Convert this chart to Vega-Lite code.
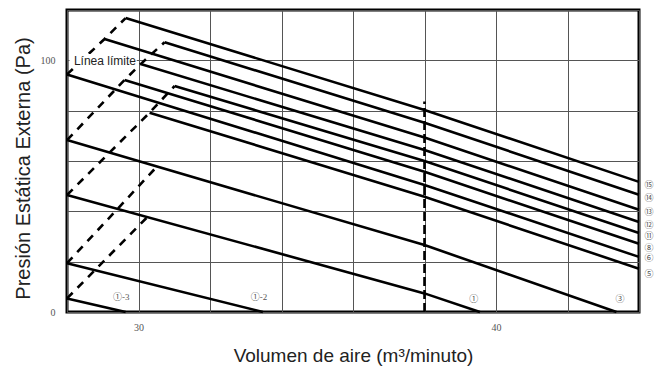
{
  "$schema": "https://vega.github.io/schema/vega-lite/v6.json",
  "width": 572,
  "height": 302,
  "autosize": {"type": "none"},
  "padding": {"left": 67, "top": 10, "right": 23, "bottom": 60},
  "background": "white",
  "config": {
    "view": {"stroke": "black", "strokeWidth": 3}
  },
  "datasets": {
    "curves": [
      {"s": "15", "x": 29.64, "y": 116.8}, {"s": "15", "x": 38, "y": 80.3}, {"s": "15", "x": 44, "y": 51.7},
      {"s": "14", "x": 30.73, "y": 107.2}, {"s": "14", "x": 38, "y": 75.2}, {"s": "14", "x": 44, "y": 46.6},
      {"s": "13", "x": 29.05, "y": 108.5}, {"s": "13", "x": 38, "y": 69.3}, {"s": "13", "x": 44, "y": 40.6},
      {"s": "12", "x": 30.06, "y": 98.5}, {"s": "12", "x": 38, "y": 64.4}, {"s": "12", "x": 44, "y": 35.8},
      {"s": "11", "x": 31.01, "y": 89.8}, {"s": "11", "x": 38, "y": 60.0}, {"s": "11", "x": 44, "y": 31.4},
      {"s": "8", "x": 29.61, "y": 92.2}, {"s": "8", "x": 38, "y": 55.7}, {"s": "8", "x": 44, "y": 27.1},
      {"s": "6", "x": 28, "y": 94.4}, {"s": "6", "x": 38, "y": 50.5}, {"s": "6", "x": 44, "y": 21.9},
      {"s": "5", "x": 30.31, "y": 79.2}, {"s": "5", "x": 38, "y": 45.8}, {"s": "5", "x": 44, "y": 17.2},
      {"s": "3", "x": 28, "y": 68.3}, {"s": "3", "x": 38, "y": 26.6}, {"s": "3", "x": 43.37, "y": 0},
      {"s": "1", "x": 28, "y": 46.5}, {"s": "1", "x": 38, "y": 7.4}, {"s": "1", "x": 39.55, "y": 0},
      {"s": "1-2", "x": 28, "y": 19.4}, {"s": "1-2", "x": 33.48, "y": 0},
      {"s": "1-3", "x": 28, "y": 5.4}, {"s": "1-3", "x": 29.64, "y": 0}
    ],
    "limits": [
      {"s": "D1", "x": 28, "y": 94.4}, {"s": "D1", "x": 29.05, "y": 108.5}, {"s": "D1", "x": 29.64, "y": 116.8},
      {"s": "D2", "x": 28, "y": 68.3}, {"s": "D2", "x": 29.61, "y": 92.2}, {"s": "D2", "x": 30.06, "y": 98.5}, {"s": "D2", "x": 30.73, "y": 107.2},
      {"s": "D3", "x": 28, "y": 46.5}, {"s": "D3", "x": 30.31, "y": 79.2}, {"s": "D3", "x": 31.01, "y": 89.8},
      {"s": "D4", "x": 28, "y": 19.4}, {"s": "D4", "x": 30.51, "y": 57.7},
      {"s": "D5", "x": 28, "y": 5.4}, {"s": "D5", "x": 30.26, "y": 37.9}
    ],
    "vline": [
      {"x": 38, "y": 0}, {"x": 38, "y": 83.6}
    ],
    "labels": [
      {"t": "⑮", "x": 44.28, "y": 50.5},
      {"t": "⑭", "x": 44.28, "y": 45.3},
      {"t": "⑬", "x": 44.28, "y": 39.7},
      {"t": "⑫", "x": 44.28, "y": 34.7},
      {"t": "⑪", "x": 44.28, "y": 30.2},
      {"t": "⑧", "x": 44.28, "y": 25.6},
      {"t": "⑥", "x": 44.28, "y": 21.3},
      {"t": "⑤", "x": 44.28, "y": 15.1},
      {"t": "①-3", "x": 29.52, "y": 6.1},
      {"t": "①-2", "x": 33.37, "y": 6.1},
      {"t": "①", "x": 39.38, "y": 5.2},
      {"t": "③", "x": 43.47, "y": 5.2}
    ]
  },
  "layer": [
    {
      "data": {"name": "curves"},
      "mark": {"type": "line", "color": "black", "strokeWidth": 2.6},
      "encoding": {
        "x": {
          "field": "x", "type": "quantitative",
          "scale": {"domain": [28, 44], "nice": false, "zero": false},
          "axis": {
            "values": [28, 30, 32, 34, 36, 38, 40, 42, 44],
            "grid": true, "gridColor": "#555", "gridWidth": 1,
            "ticks": false, "domain": false, "labelOverlap": false, "labelFlush": false,
            "labelExpr": "datum.value == 30 || datum.value == 40 ? datum.label : ''",
            "labelFont": "Liberation Serif", "labelFontSize": 10, "labelColor": "#555", "labelPadding": 10,
            "title": "Volumen de aire (m³/minuto)",
            "titleFont": "Liberation Sans", "titleFontSize": 19, "titleFontWeight": "normal", "titleColor": "#222",
            "titleBaseline": "alphabetic", "titleAlign": "center", "titleX": 286, "titleY": 49
          }
        },
        "y": {
          "field": "y", "type": "quantitative",
          "scale": {"domain": [0, 120], "nice": false},
          "axis": {
            "values": [0, 10, 20, 30, 40, 50, 60, 70, 80, 90, 100, 110, 120],
            "grid": true, "gridColor": "#555", "gridWidth": 1,
            "ticks": false, "domain": false, "labelOverlap": false, "labelFlush": false,
            "labelExpr": "datum.value == 0 || datum.value == 50 || datum.value == 100 ? datum.label : ''",
            "labelFont": "Liberation Serif", "labelFontSize": 10, "labelColor": "#555", "labelPadding": 12,
            "title": "Presión Estática Externa (Pa)",
            "titleFont": "Liberation Sans", "titleFontSize": 20, "titleFontWeight": "normal", "titleColor": "#222",
            "titleAngle": -90, "titleBaseline": "middle", "titleAlign": "center", "titleX": -44, "titleY": 158
          }
        },
        "detail": {"field": "s"}
      }
    },
    {
      "data": {"name": "limits"},
      "mark": {"type": "line", "color": "black", "strokeWidth": 2.6, "strokeDash": [8, 7]},
      "encoding": {
        "x": {"field": "x", "type": "quantitative"},
        "y": {"field": "y", "type": "quantitative"},
        "detail": {"field": "s"}
      }
    },
    {
      "data": {"name": "vline"},
      "mark": {"type": "line", "color": "black", "strokeWidth": 2.6, "strokeDash": [9, 4]},
      "encoding": {
        "x": {"field": "x", "type": "quantitative"},
        "y": {"field": "y", "type": "quantitative"},
        "order": {"field": "y"}
      }
    },
    {
      "data": {"values": [{"x": 28.07, "x2": 29.95, "y": 97.0, "y2": 102.5}]},
      "mark": {"type": "rect", "color": "white", "opacity": 1},
      "encoding": {
        "x": {"field": "x", "type": "quantitative"},
        "x2": {"field": "x2"},
        "y": {"field": "y", "type": "quantitative"},
        "y2": {"field": "y2"}
      }
    },
    {
      "data": {"values": [{"x": 29.06, "y": 99.7, "t": "Línea límite"}]},
      "mark": {"type": "text", "font": "Liberation Sans", "fontSize": 12, "color": "#222", "align": "center", "baseline": "middle"},
      "encoding": {
        "x": {"field": "x", "type": "quantitative"},
        "y": {"field": "y", "type": "quantitative"},
        "text": {"field": "t"}
      }
    },
    {
      "data": {"name": "labels"},
      "mark": {"type": "text", "font": "Liberation Serif, 'Noto Sans CJK JP'", "fontSize": 9, "color": "#555", "align": "center", "baseline": "middle"},
      "encoding": {
        "x": {"field": "x", "type": "quantitative"},
        "y": {"field": "y", "type": "quantitative"},
        "text": {"field": "t"}
      }
    }
  ]
}
